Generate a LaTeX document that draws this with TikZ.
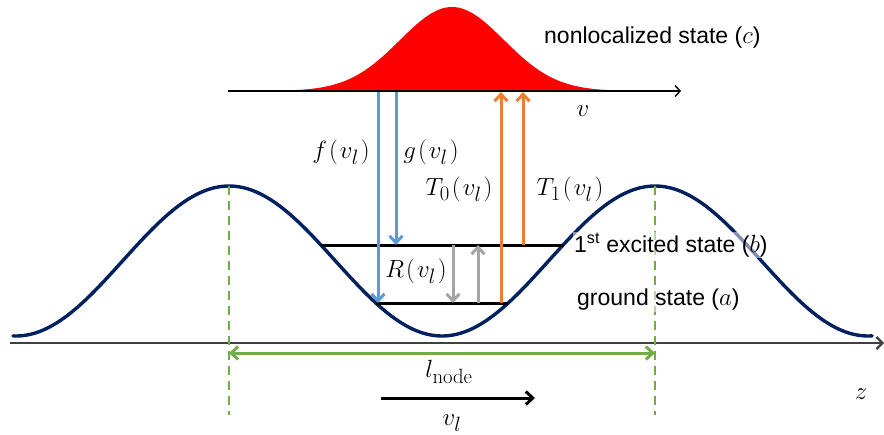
\documentclass[tikz,border=0pt]{standalone}
\usepackage[no-math]{fontspec}
\setmainfont{Liberation Sans}
\usetikzlibrary{arrows.meta}
\definecolor{navy}{HTML}{002060}
\definecolor{ablue}{HTML}{5B9BD5}
\definecolor{aorange}{HTML}{ED7D31}
\definecolor{agray}{HTML}{A5A5A5}
\definecolor{agreen}{HTML}{70AD47}
\definecolor{axisgray}{HTML}{404040}
\definecolor{darkred}{HTML}{7F0000}
\newcommand{\fv}[1]{#1\mkern1.5mu(\mkern1.5mu v_l\mkern1.5mu)}
\begin{document}
\begin{tikzpicture}[x=1pt,y=-1pt,
  barb/.style={-{Straight Barb[length=7pt,width=13pt]}},
  transarrow/.style={barb,line width=3pt},
  level/.style={line width=3pt,black},
  lbl/.style={inner sep=1pt,font=\fontsize{23}{27}\selectfont},
  mlbl/.style={inner sep=1pt,font=\fontsize{28}{32}\selectfont},
  halo/.style={fill=white,fill opacity=0.5,text opacity=1},
  gdash/.style={agreen,line width=2.2pt,dash pattern=on 9pt off 6pt}]
\useasboundingbox (0,0) rectangle (884,434);
% main axis
\coordinate (zl) at (10,343);
\coordinate (zr) at (884,343);
\draw[axisgray,line width=2.2pt,-{Straight Barb[length=6pt,width=12pt]}] (zl) -- (zr);
% potential curve
\draw[navy,line width=3.4pt,line cap=round] plot[domain=-0.507:1.51,samples=240,smooth] ({229+426*\x},{261-75*cos(360*\x)});
% peaks and dashed lines
\coordinate (pk1) at (229,186);
\coordinate (pk2) at (655,186);
\coordinate (pb1) at (229,415);
\coordinate (pb2) at (655,415);
\draw[gdash] (pk1) -- (pb1);
\draw[gdash] (pk2) -- (pb2);
% l_node arrow
\coordinate (ln1) at (229,353);
\coordinate (ln2) at (655,353);
\draw[agreen,line width=3pt,{Straight Barb[length=7pt,width=13pt]}-{Straight Barb[length=7pt,width=13pt]}] (ln1) -- (ln2);
\node[mlbl] (lnode) at (449,372) {$l_{\mathrm{node}}$};
% v_l arrow
\coordinate (va) at (381,398);
\coordinate (vb) at (535,398);
\draw[black,line width=3pt,barb] (va) -- (vb);
\node[mlbl] (vl) at (452,423) {$v_l$};
\node[mlbl] (z) at (861,394) {$z$};
% top axis and gaussian
\coordinate (ta) at (228,91);
\coordinate (tb) at (681,91);
\coordinate (ra1) at (250,91);
\coordinate (ra2) at (656,91);
\fill[red] plot[domain=-3.9:3.9,samples=120,smooth] ({452+52*\x},{91-84*exp(-\x*\x/2)}) -- cycle;
\draw[darkred,line width=2.6pt] (ra1) -- (ra2);
\draw[black,line width=1.4pt,-{Straight Barb[length=5pt,width=11pt]}] (ta) -- (tb);
\node[lbl,anchor=west] (nonloc) at (543,38) {nonlocalized state ($c$)};
\node[mlbl] (v) at (583,111) {$v$};
% levels
\coordinate (g1) at (376,303);
\coordinate (g2) at (508,303);
\coordinate (e1) at (321,245);
\coordinate (e2) at (564,245);
\draw[level] (g1) -- (g2);
\draw[level] (e1) -- (e2);
% transitions
\coordinate (fa) at (378,92); \coordinate (fb) at (378,303);
\coordinate (ga) at (396,92); \coordinate (gb) at (396,245);
\coordinate (t0a) at (501,303); \coordinate (t0b) at (501,92);
\coordinate (t1a) at (523,245); \coordinate (t1b) at (523,92);
\coordinate (ra) at (453,245); \coordinate (rb) at (453,303);
\coordinate (sa) at (478,303); \coordinate (sb) at (478,245);
\draw[transarrow,ablue] (fa) -- (fb);
\draw[transarrow,ablue] (ga) -- (gb);
\draw[transarrow,aorange] (t0a) -- (t0b);
\draw[transarrow,aorange] (t1a) -- (t1b);
\draw[transarrow,agray] (ra) -- (rb);
\draw[transarrow,agray] (sa) -- (sb);
\node[mlbl] (flab) at (341,152) {$\fv{f}$};
\node[mlbl] (glab) at (431,152) {$\fv{g}$};
\node[mlbl] (t0lab) at (459,189) {$\fv{T_0}$};
\node[mlbl] (t1lab) at (570,189) {$\fv{T_1}$};
\node[mlbl] (rlab) at (416,271) {$\fv{R}$};
\node[lbl,halo,anchor=west] (exc) at (573,245) {1\textsuperscript{st} excited state ($b$)};
\node[lbl,halo,anchor=west] (gnd) at (576,300) {ground state ($a$)};
\end{tikzpicture}
\end{document}
